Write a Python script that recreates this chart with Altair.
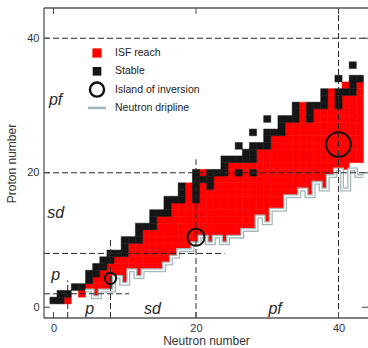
import math
import altair as alt
import pandas as pd

FONT = "Liberation Sans"

# ---------------- data ----------------
Z_LIST = list(range(1, 37))
STABLE_N = [
    [0, 1], [1, 2], [3, 4], [5], [5, 6], [6, 7], [7, 8], [8, 9, 10], [10],
    [10, 11, 12], [12], [12, 13, 14], [14], [14, 15, 16], [16], [16, 17, 18, 20],
    [18, 20], [18, 20, 22], [20, 21, 22], [20, 22, 23, 24, 26, 28], [24],
    [24, 25, 26, 27, 28], [27, 28], [26, 28, 29, 30], [30], [28, 30, 31, 32],
    [32], [30, 32, 33, 34, 36], [34, 36], [34, 36, 37, 38, 40], [38, 40],
    [38, 40, 41, 42], [42], [40, 42, 43], [], [42],
]
ISF_FIRST_N = [2, 3, 5, 6, 7, 8, 9, 11, 11, 13, 13, 15, 15, 17, 17, 19, 19, 19,
               23, 21, 25, 29, 29, 31, 31, 33, 33, 35, 35, 35, 39, 39, 41, 44, 44, 44]
ISF_LAST_N = [43] * 17 + [38, 39, 39, 41] + [43] * 15

DRIP_N = list(range(0, 44))
DRIP_Z = [1, 1, 1, 3, 2, 3, 2, 3, 3, 5, 4, 6, 5, 6, 6, 6, 7, 8, 9, 9,
          10, 11, 10, 11, 10, 11, 11, 12, 12, 14, 13, 15, 15, 17, 17, 18, 17, 19, 18, 20,
          21, 18, 21, 20]
DRIP_FIRST_DRAWN = 5

ISLAND_N = [8, 20, 40]
ISLAND_Z = [4.3, 10.4, 24.2]
ISLAND_R = [0.9, 1.35, 1.95]

MAGIC = [2, 8, 20, 40]
H_LINE_END_N = [10.6, 24.0, 46.0, 46.0]
V_LINE_END_Z = [4.0, 10.0, 22.0, 46.0]

LEFT_SHELLS = ["pf", "sd", "p"]
LEFT_SHELL_Z = [30.8, 14.0, 4.8]
BOTTOM_SHELLS = ["p", "sd", "pf"]
BOTTOM_SHELL_N = [5.1, 13.9, 31.1]

TICKS = [0, 20, 40]
LEGEND_LABELS = ["ISF reach", "Stable", "Island of inversion", "Neutron dripline"]

# ---------------- geometry / style ----------------
W, H = 324, 310
XMIN, XMAX = -1.33, 44.14
YMIN, YMAX = -1.6, 44.5
PX_N = W / (XMAX - XMIN)
PX_Z = H / (YMAX - YMIN)
RED, BLACK, GRAY, INK = "#ff0000", "#151515", "#a3b6b9", "#2a2a2a"

XS = alt.Scale(domain=[XMIN, XMAX], nice=False, zero=False)
YS = alt.Scale(domain=[YMIN, YMAX], nice=False, zero=False)
XAXIS = alt.Axis(values=TICKS, ticks=False, tickSize=0, domain=False, grid=False,
                 labelPadding=4, labelFontSize=11, labelColor="#333", labelFont=FONT,
                 title="Neutron number", titleFont=FONT, titleFontSize=12,
                 titleFontWeight="normal", titleColor="#333", titlePadding=2)
YAXIS = alt.Axis(values=TICKS, ticks=False, tickSize=0, domain=False, grid=False,
                 labelPadding=5, labelFontSize=11, labelColor="#333", labelFont=FONT,
                 title="Proton number", titleFont=FONT, titleFontSize=12,
                 titleFontWeight="normal", titleColor="#333", titlePadding=8)


def X(f):
    return alt.X(f, type="quantitative", scale=XS, axis=XAXIS)


def Y(f):
    return alt.Y(f, type="quantitative", scale=YS, axis=YAXIS)


# ---------------- tables built from the arrays ----------------
stable_cells = [(n, z) for z, ns in zip(Z_LIST, STABLE_N) for n in ns]
stable_set = set(stable_cells)
zmin = dict(zip(DRIP_N, DRIP_Z))
isf_cells = [(n, z) for z, a, b in zip(Z_LIST, ISF_FIRST_N, ISF_LAST_N)
             for n in range(a, b + 1)
             if (n, z) not in stable_set and z >= zmin.get(n, 99)]
cells = pd.DataFrame(
    [dict(N=n, Z=z, kind="ISF reach") for n, z in isf_cells]
    + [dict(N=n, Z=z, kind="Stable") for n, z in stable_cells]
)

pts = []
for n, zm in zip(DRIP_N, DRIP_Z):
    if n < DRIP_FIRST_DRAWN:
        continue
    pts.append(dict(n=n - 0.5, z=zm - 0.5))
    pts.append(dict(n=n + 0.5, z=zm - 0.5))
for i, p in enumerate(pts):
    p["o"] = i
drip = pd.DataFrame(pts)

islands = pd.DataFrame(dict(n=ISLAND_N, z=ISLAND_Z, r=ISLAND_R))
hlines = pd.DataFrame(dict(z=MAGIC, n_end=H_LINE_END_N))
vlines = pd.DataFrame(dict(n=MAGIC, z_end=V_LINE_END_Z))
left_lab = pd.DataFrame(dict(t=LEFT_SHELLS, z=LEFT_SHELL_Z))
bottom_lab = pd.DataFrame(dict(t=BOTTOM_SHELLS, n=BOTTOM_SHELL_N))
ticks = pd.DataFrame(dict(v=TICKS))

# legend placement (data coordinates derived from pixel layout)
LEG_SYM_N = XMIN + (97 - 44) / PX_N
LEG_TXT_N = XMIN + (115 - 44) / PX_N
LEG_Z0 = YMAX - (53 - 8) / PX_Z
LEG_DZ = 18.3 / PX_Z
legend = pd.DataFrame(dict(label=LEGEND_LABELS, idx=list(range(len(LEGEND_LABELS)))))
legend["z"] = LEG_Z0 - legend["idx"] * LEG_DZ
legend["n"] = LEG_SYM_N
legend["nt"] = LEG_TXT_N

# ---------------- layers ----------------
CS = alt.Scale(domain=["ISF reach", "Stable"], range=[RED, BLACK])
cell_layer = alt.Chart(cells).transform_calculate(
    n0="datum.N - 0.5", n1="datum.N + 0.5", z0="datum.Z - 0.5", z1="datum.Z + 0.5"
).mark_rect(strokeWidth=0.5, clip=True).encode(
    x=X("n0"), x2="n1:Q", y=Y("z0"), y2="z1:Q",
    color=alt.Color("kind:N", scale=CS, legend=None),
    stroke=alt.Stroke("kind:N", scale=CS, legend=None),
)

drip_outer = alt.Chart(drip).mark_line(color=GRAY, strokeWidth=4, clip=True).encode(
    x=X("n"), y=Y("z"), order="o:Q")
drip_inner = alt.Chart(drip).mark_line(color="white", strokeWidth=1.4, clip=True).encode(
    x=X("n"), y=Y("z"), order="o:Q")

dash = [6, 3]
h_layer = alt.Chart(hlines).transform_calculate(n0=str(XMIN)).mark_rule(
    color=INK, strokeWidth=1, strokeDash=dash, clip=True).encode(
    x=X("n0"), x2="n_end:Q", y=Y("z"))
v_layer = alt.Chart(vlines).transform_calculate(z0=str(YMIN)).mark_rule(
    color=INK, strokeWidth=1, strokeDash=dash, clip=True).encode(
    x=X("n"), y=Y("z0"), y2="z_end:Q")

island_layer = alt.Chart(islands).transform_calculate(
    sz=f"PI * pow(datum.r * {PX_N}, 2)").mark_point(
    shape="circle", filled=False, color="#111", strokeWidth=2, opacity=1).encode(
    x=X("n"), y=Y("z"), size=alt.Size("sz:Q", scale=None))

left_text = alt.Chart(left_lab).transform_calculate(n=str(0.3)).mark_text(
    font=FONT, fontSize=16, fontStyle="italic", color=INK).encode(
    x=X("n"), y=Y("z"), text="t:N")
bottom_text = alt.Chart(bottom_lab).transform_calculate(z=str(-0.2)).mark_text(
    font=FONT, fontSize=16, fontStyle="italic", color=INK).encode(
    x=X("n"), y=Y("z"), text="t:N")

# legend
leg_red = alt.Chart(legend).transform_filter("datum.idx == 0").mark_square(
    color=RED, size=85, opacity=1).encode(x=X("n"), y=Y("z"))
leg_blk = alt.Chart(legend).transform_filter("datum.idx == 1").mark_square(
    color=BLACK, size=75, opacity=1).encode(x=X("n"), y=Y("z"))
leg_circ = alt.Chart(legend).transform_filter("datum.idx == 2").mark_point(
    shape="circle", filled=False, color="#111", strokeWidth=2.4, size=200, opacity=1
).encode(x=X("n"), y=Y("z"))
leg_line = alt.Chart(legend).transform_filter("datum.idx == 3").transform_calculate(
    a=f"datum.n - {9 / PX_N}", b=f"datum.n + {9 / PX_N}").mark_rule(
    color=GRAY, strokeWidth=2.5).encode(x=X("a"), x2="b:Q", y=Y("z"))
leg_text = alt.Chart(legend).mark_text(
    font=FONT, fontSize=10.5, color="#222", align="left", baseline="middle").encode(
    x=X("nt"), y=Y("z"), text="label:N")

# ticks (inward on all sides) and frame
TCOL = "#444"
t_left = alt.Chart(ticks).mark_rule(color=TCOL).encode(
    y=Y("v"), x=alt.value(0), x2=alt.value(6))
t_right = alt.Chart(ticks).mark_rule(color=TCOL).encode(
    y=Y("v"), x=alt.value(W - 6), x2=alt.value(W))
t_bottom = alt.Chart(ticks).mark_rule(color=TCOL).encode(
    x=X("v"), y=alt.value(H), y2=alt.value(H - 6))
t_top = alt.Chart(ticks).mark_rule(color=TCOL).encode(
    x=X("v"), y=alt.value(0), y2=alt.value(6))

one = alt.Data(values=[{"k": 1}])
f_left = alt.Chart(one).mark_rule(color="#555", strokeWidth=1.3).encode(
    x=alt.value(0), y=alt.value(0), y2=alt.value(H))
f_top = alt.Chart(one).mark_rule(color="#555", strokeWidth=1.3).encode(
    x=alt.value(0), x2=alt.value(W), y=alt.value(0))
f_bottom = alt.Chart(one).mark_rule(color="#555", strokeWidth=1.3).encode(
    x=alt.value(0), x2=alt.value(W), y=alt.value(H))

chart = alt.layer(
    cell_layer, drip_outer, drip_inner, h_layer, v_layer, island_layer,
    left_text, bottom_text,
    leg_red, leg_blk, leg_circ, leg_line, leg_text,
    t_left, t_right, t_bottom, t_top, f_left, f_top, f_bottom,
).properties(
    width=W, height=H,
    padding={"left": 44, "top": 8, "right": 0, "bottom": 30},
    autosize=alt.AutoSizeParams(type="none"),
    background="white",
).configure_view(stroke=None)

chart.save("out.html", embed_options={"renderer": "svg", "actions": False})
